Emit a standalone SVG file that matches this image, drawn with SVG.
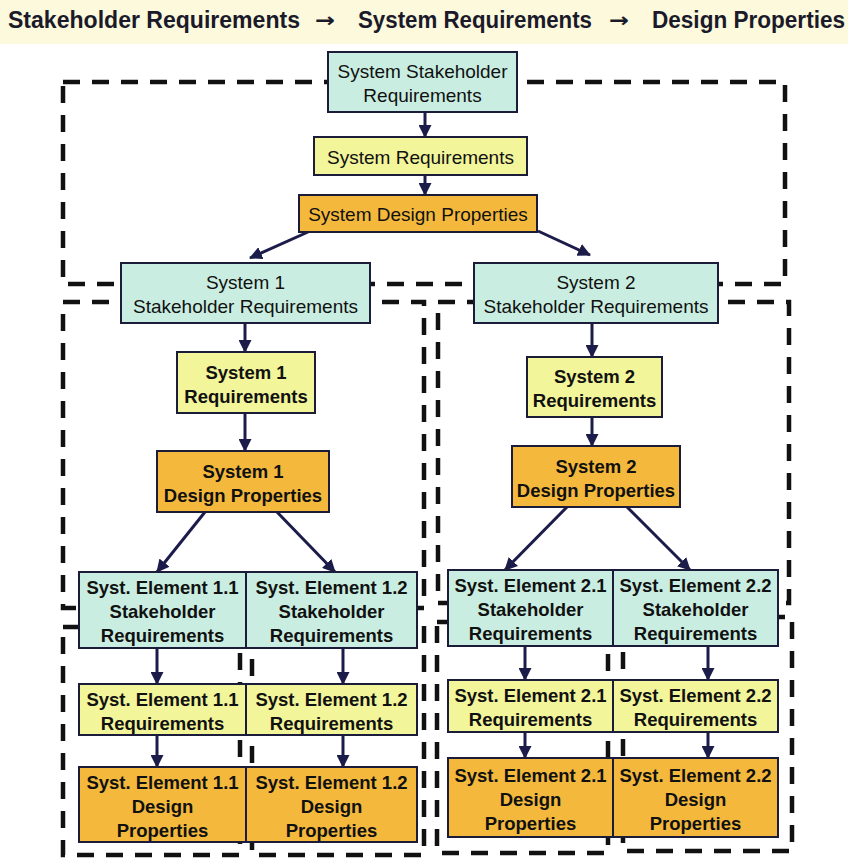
<svg xmlns="http://www.w3.org/2000/svg" width="848" height="859" viewBox="0 0 848 859">
<defs>
<style>
.bg{fill:#ffffff}
.band{fill:#fcf9dc}
.dash{fill:none;stroke:#111;stroke-width:4.5;stroke-dasharray:17 12}
.teal{fill:#c9eee1;stroke:#1b1b3a;stroke-width:2}
.yel{fill:#f2f59a;stroke:#1b1b3a;stroke-width:2}
.org{fill:#f4b93c;stroke:#1b1b3a;stroke-width:2}
.t{font-family:"Liberation Sans",Arial,sans-serif;font-size:19px;text-anchor:middle;fill:#111}
.b{font-weight:bold;font-size:18.5px}
.h{font-family:"Liberation Sans",Arial,sans-serif;font-size:23px;font-weight:bold;fill:#1a1a2a}
.ar{font-family:"DejaVu Sans",sans-serif;font-size:20px;font-weight:bold}
.c{fill:none;stroke:#1c1c4a;stroke-width:3;marker-end:url(#ah)}
</style>
<marker id="ah" markerUnits="userSpaceOnUse" markerWidth="13" markerHeight="13" refX="12" refY="6.5" orient="auto">
<path d="M0,0 L13,6.5 L0,13 z" fill="#1c1c4a"/>
</marker>
</defs>
<rect class="bg" x="0" y="0" width="848" height="859"/>
<rect class="band" x="0" y="0" width="848" height="44"/>
<text class="h" y="28"><tspan x="8" textLength="292" lengthAdjust="spacingAndGlyphs">Stakeholder Requirements</tspan><tspan class="ar" x="315" y="27" textLength="20" lengthAdjust="spacingAndGlyphs">→</tspan><tspan x="358" y="28" textLength="234" lengthAdjust="spacingAndGlyphs">System Requirements</tspan><tspan class="ar" x="609" y="27" textLength="20" lengthAdjust="spacingAndGlyphs">→</tspan><tspan x="652" y="28" textLength="193" lengthAdjust="spacingAndGlyphs">Design Properties</tspan></text>

<g id="boundaries">
<rect class="dash" x="63" y="82" width="722" height="202"/>
<rect class="dash" x="63" y="302" width="361" height="306"/>
<rect class="dash" x="438" y="302" width="351" height="301"/>
<rect class="dash" x="63" y="627" width="177" height="228"/>
<rect class="dash" x="252" y="624" width="172" height="231"/>
<rect class="dash" x="437" y="622" width="171" height="231"/>
<rect class="dash" x="623" y="617" width="169" height="234"/>
</g>

<g id="connectors">
<line class="c" x1="425" y1="112" x2="425" y2="137"/>
<line class="c" x1="425" y1="175" x2="425" y2="195"/>
<line class="c" x1="308" y1="232" x2="250" y2="258"/>
<line class="c" x1="538" y1="231" x2="590" y2="255"/>
<line class="c" x1="245" y1="323" x2="245" y2="352"/>
<line class="c" x1="245" y1="413" x2="245" y2="451"/>
<line class="c" x1="592" y1="323" x2="592" y2="357"/>
<line class="c" x1="592" y1="417" x2="592" y2="446"/>
<line class="c" x1="205" y1="512" x2="157" y2="572"/>
<line class="c" x1="277" y1="512" x2="335" y2="572"/>
<line class="c" x1="567" y1="507" x2="505" y2="570"/>
<line class="c" x1="627" y1="507" x2="690" y2="570"/>
<line class="c" x1="157" y1="648" x2="157" y2="684"/>
<line class="c" x1="157" y1="735" x2="157" y2="767"/>
<line class="c" x1="343" y1="648" x2="343" y2="684"/>
<line class="c" x1="343" y1="735" x2="343" y2="767"/>
<line class="c" x1="525" y1="646" x2="525" y2="680"/>
<line class="c" x1="525" y1="732" x2="525" y2="758"/>
<line class="c" x1="708" y1="646" x2="708" y2="680"/>
<line class="c" x1="708" y1="732" x2="708" y2="758"/>
</g>

<g id="sys-sh"><rect class="teal" x="328" y="52" width="189" height="60"/><text class="t" x="422.5" y="78">System Stakeholder</text><text class="t" x="422.5" y="102">Requirements</text></g>
<g id="sys-req"><rect class="yel" x="314" y="137" width="213" height="38"/><text class="t" x="420.5" y="164">System Requirements</text></g>
<g id="sys-dp"><rect class="org" x="299" y="195" width="238" height="37"/><text class="t" x="418" y="221">System Design Properties</text></g>

<g id="s1-sh"><rect class="teal" x="121" y="263" width="249" height="60"/><text class="t" x="245.5" y="289">System 1</text><text class="t" x="245.5" y="313">Stakeholder Requirements</text></g>
<g id="s2-sh"><rect class="teal" x="474" y="263" width="244" height="60"/><text class="t" x="596" y="289">System 2</text><text class="t" x="596" y="313">Stakeholder Requirements</text></g>

<g id="s1-req"><rect class="yel" x="177" y="352" width="138" height="61"/><text class="t b" x="246" y="378.5">System 1</text><text class="t b" x="246" y="402.5">Requirements</text></g>
<g id="s1-dp"><rect class="org" x="157" y="451" width="172" height="61"/><text class="t b" x="243" y="477.5">System 1</text><text class="t b" x="243" y="501.5">Design Properties</text></g>
<g id="s2-req"><rect class="yel" x="527" y="357" width="135" height="60"/><text class="t b" x="594.5" y="383">System 2</text><text class="t b" x="594.5" y="407">Requirements</text></g>
<g id="s2-dp"><rect class="org" x="512" y="446" width="168" height="61"/><text class="t b" x="596" y="472.5">System 2</text><text class="t b" x="596" y="496.5">Design Properties</text></g>

<g id="e11-sh"><rect class="teal" x="79" y="572" width="167" height="76"/><text class="t b" x="162.5" y="594">Syst. Element 1.1</text><text class="t b" x="162.5" y="618">Stakeholder</text><text class="t b" x="162.5" y="642">Requirements</text></g>
<g id="e12-sh"><rect class="teal" x="246" y="572" width="171" height="76"/><text class="t b" x="331.5" y="594">Syst. Element 1.2</text><text class="t b" x="331.5" y="618">Stakeholder</text><text class="t b" x="331.5" y="642">Requirements</text></g>
<g id="e11-req"><rect class="yel" x="79" y="684" width="167" height="51"/><text class="t b" x="162.5" y="705.5">Syst. Element 1.1</text><text class="t b" x="162.5" y="729.5">Requirements</text></g>
<g id="e12-req"><rect class="yel" x="246" y="684" width="171" height="51"/><text class="t b" x="331.5" y="705.5">Syst. Element 1.2</text><text class="t b" x="331.5" y="729.5">Requirements</text></g>
<g id="e11-dp"><rect class="org" x="79" y="767" width="167" height="75"/><text class="t b" x="162.5" y="788.5">Syst. Element 1.1</text><text class="t b" x="162.5" y="812.5">Design</text><text class="t b" x="162.5" y="836.5">Properties</text></g>
<g id="e12-dp"><rect class="org" x="246" y="767" width="171" height="75"/><text class="t b" x="331.5" y="788.5">Syst. Element 1.2</text><text class="t b" x="331.5" y="812.5">Design</text><text class="t b" x="331.5" y="836.5">Properties</text></g>

<g id="e21-sh"><rect class="teal" x="448" y="570" width="165" height="76"/><text class="t b" x="530.5" y="592">Syst. Element 2.1</text><text class="t b" x="530.5" y="616">Stakeholder</text><text class="t b" x="530.5" y="640">Requirements</text></g>
<g id="e22-sh"><rect class="teal" x="613" y="570" width="165" height="76"/><text class="t b" x="695.5" y="592">Syst. Element 2.2</text><text class="t b" x="695.5" y="616">Stakeholder</text><text class="t b" x="695.5" y="640">Requirements</text></g>
<g id="e21-req"><rect class="yel" x="448" y="680" width="165" height="52"/><text class="t b" x="530.5" y="702">Syst. Element 2.1</text><text class="t b" x="530.5" y="726">Requirements</text></g>
<g id="e22-req"><rect class="yel" x="613" y="680" width="165" height="52"/><text class="t b" x="695.5" y="702">Syst. Element 2.2</text><text class="t b" x="695.5" y="726">Requirements</text></g>
<g id="e21-dp"><rect class="org" x="448" y="758" width="165" height="79"/><text class="t b" x="530.5" y="781.5">Syst. Element 2.1</text><text class="t b" x="530.5" y="805.5">Design</text><text class="t b" x="530.5" y="829.5">Properties</text></g>
<g id="e22-dp"><rect class="org" x="613" y="758" width="165" height="79"/><text class="t b" x="695.5" y="781.5">Syst. Element 2.2</text><text class="t b" x="695.5" y="805.5">Design</text><text class="t b" x="695.5" y="829.5">Properties</text></g>
</svg>
